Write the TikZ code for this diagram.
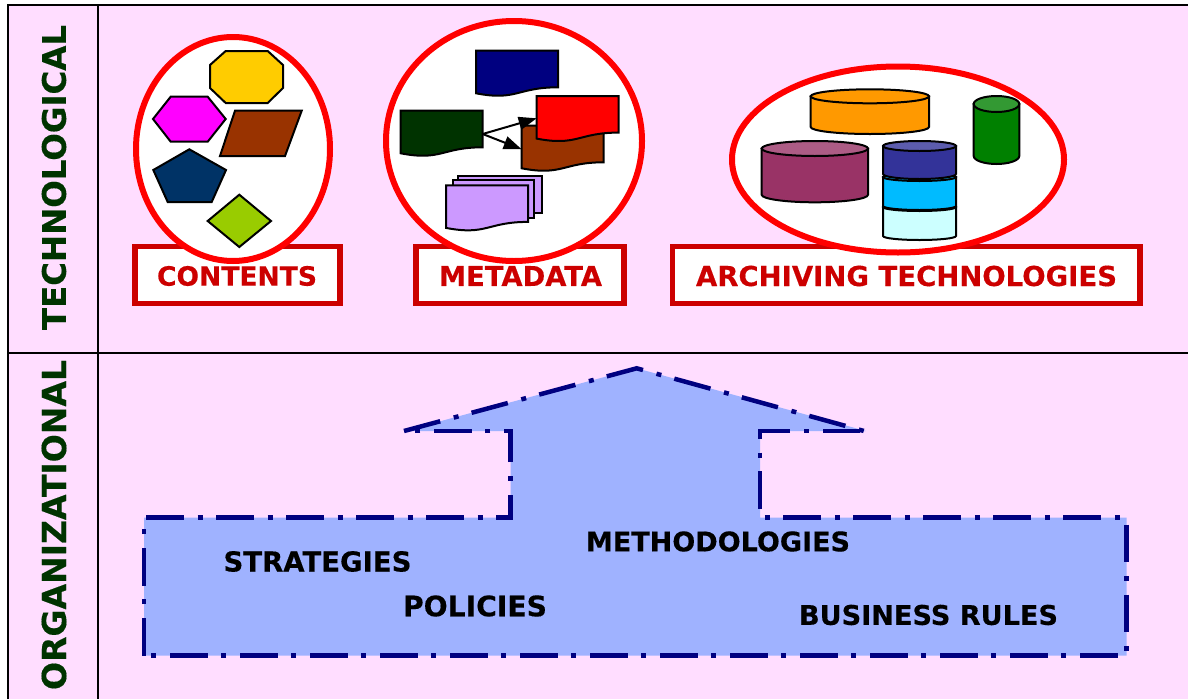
\documentclass[tikz,border=0pt]{standalone}
\usepackage{fontspec}
\usepackage{graphicx}
\setmainfont{DejaVu Sans}[BoldFeatures={FakeBold=0.35}]
\usetikzlibrary{arrows.meta}
\definecolor{pinkbg}{HTML}{FFDDFF}
\definecolor{redbox}{HTML}{CC0000}
\definecolor{navyline}{HTML}{000080}
\definecolor{bluefill}{HTML}{9FB2FF}
\definecolor{darkgreentxt}{HTML}{003300}
\definecolor{shockpink}{HTML}{FF00FF}
\tikzset{
  x=1pt,y=-1pt,
  grid line/.style={draw=black,line width=2pt},
  bubble/.style={draw=red,fill=white,line width=6pt},
  labelbox/.style={draw=redbox,fill=white,line width=5.5pt},
  labeltext/.style={text=redbox,font=\bfseries\fontsize{26}{30}\selectfont,inner sep=0pt},
  sidetext/.style={text=darkgreentxt,font=\bfseries\fontsize{32}{36}\selectfont,inner sep=0pt,rotate=90},
  bodytext/.style={text=black,font=\bfseries\fontsize{26}{32}\selectfont,inner sep=0pt},
  shapeline/.style={draw=black,line width=2pt,line join=miter},
  linkarrow/.style={draw=black,line width=2pt,-{Triangle[length=18pt,width=13pt]}},
  bigoutline/.style={draw=navyline,line width=4.5pt,line join=miter,dash pattern=on 37.5pt off 14pt on 5pt off 13.5pt}
}
\newcommand{\fitw}[2]{\resizebox{#1pt}{!}{#2}}
\newcommand{\docshape}[3]{%
  \draw[shapeline,fill=#3] (#1,#2) -- ++(82,0) -- ++(0,36.6)
    .. controls ({#1+41},{#2+36.6}) and ({#1+41},{#2+50.5}) .. ({#1},{#2+42.6}) -- cycle;}
\newcommand{\cylshape}[7]{%
  \pgfmathsetmacro{\cxx}{(#1+#2)/2}\pgfmathsetmacro{\rxx}{(#2-#1)/2}%
  \pgfmathsetmacro{\cyy}{#3+#4}\pgfmathsetmacro{\byy}{#5-#4}%
  \draw[shapeline,fill=#6] (#1,\cyy) -- (#1,\byy)
    arc[start angle=180,end angle=360,x radius=\rxx pt,y radius=#4 pt] -- (#2,\cyy) -- cycle;
  \draw[shapeline,fill=#7] (\cxx,\cyy) ellipse[x radius=\rxx pt,y radius=#4 pt];}
\begin{document}
\begin{tikzpicture}
\useasboundingbox (0,0) rectangle (1188,699);
\fill[white] (0,0) rectangle (1188,699);
% panel
\fill[pinkbg] (8,5) rectangle (1188,699);
\draw[grid line] (8,699) -- (8,5) -- (1188,5);
\draw[grid line] (98,5) -- (98,699);
\draw[grid line] (8,353) -- (1188,353);
% side labels
\node[sidetext] (tech) at (54,177.5) {\fitw{305}{TECHNOLOGICAL}};
\node[sidetext] (org) at (54,525) {\fitw{330}{ORGANIZATIONAL}};
% label boxes
\draw[labelbox] (135,246.5) rectangle (340,303.5);
\draw[labelbox] (416,246.5) rectangle (624,303.5);
\draw[labelbox] (672.5,246.5) rectangle (1140,303.5);
% bubbles
\draw[bubble] (233,149) ellipse[x radius=97pt,y radius=112pt];
\draw[bubble] (514,141) ellipse[x radius=128pt,y radius=120pt];
\draw[bubble] (898,159.5) ellipse[x radius=166pt,y radius=93pt];
\node[labeltext] (contents) at (237,276) {\fitw{160}{CONTENTS}};
\node[labeltext] (metadata) at (520.5,276) {\fitw{163}{METADATA}};
\node[labeltext] (archiving) at (906.5,276) {\fitw{421}{ARCHIVING TECHNOLOGIES}};
% contents shapes
\draw[shapeline,fill={rgb,255:red,255;green,204;blue,0}] (225.7,51) -- (267.7,51) -- (283,65) -- (283,88) -- (267.7,103) -- (225.7,103) -- (210,88) -- (210,65) -- cycle;
\draw[shapeline,fill=shockpink] (170.7,96.7) -- (207.7,96.7) -- (225.7,119) -- (207.7,141.7) -- (170.7,141.7) -- (153,119) -- cycle;
\draw[shapeline,fill={rgb,255:red,153;green,51;blue,0}] (235,110.7) -- (301.7,110.7) -- (285,156) -- (220,156) -- cycle;
\draw[shapeline,fill={rgb,255:red,0;green,51;blue,102}] (189.3,149.3) -- (226,170) -- (211.7,202) -- (167.7,202) -- (153.3,170) -- cycle;
\draw[shapeline,fill={rgb,255:red,153;green,204;blue,0}] (239.3,194.7) -- (271,221) -- (239.3,247) -- (207.7,221) -- cycle;
% metadata shapes
\docshape{476}{50.7}{navyline}
\docshape{400.7}{110.7}{darkgreentxt}
\docshape{521.7}{125.7}{{rgb,255:red,153;green,51;blue,0}}
\coordinate (srcdoc) at (482.7,134);
\coordinate (reddoc) at (536.7,118.3);
\coordinate (browndoc) at (521.7,149.3);
\draw[linkarrow] (srcdoc) -- (browndoc);
\docshape{536.7}{96}{red}
\draw[linkarrow] (srcdoc) -- (reddoc);
\definecolor{lilac}{HTML}{CC99FF}
\draw[shapeline,fill=lilac] (458.3,176) rectangle (541.7,213.3);
\draw[shapeline,fill=lilac] (452.7,180.3) rectangle (534.3,218.3);
\docshape{446}{185.3}{lilac}
% archiving cylinders
\definecolor{cylorange}{HTML}{FF9900}
\definecolor{cylplum}{HTML}{993366}
\definecolor{cylplumtop}{HTML}{AD5C85}
\definecolor{cylgreen}{HTML}{008000}
\definecolor{cylgreentop}{HTML}{339933}
\definecolor{cylblue}{HTML}{333399}
\definecolor{cylbluetop}{HTML}{5C5CAD}
\definecolor{cylsky}{HTML}{00BBFF}
\definecolor{cylpale}{HTML}{CCFFFF}
\cylshape{810.7}{929}{89.3}{7}{134}{cylorange}{cylorange}
\cylshape{761.7}{868}{141}{7.5}{202.3}{cylplum}{cylplumtop}
\cylshape{973.7}{1019.3}{96}{8}{164}{cylgreen}{cylgreentop}
\cylshape{883}{956}{203}{4}{240}{cylpale}{cylpale}
\cylshape{883}{956}{173}{4}{210}{cylsky}{cylsky}
\cylshape{883}{956}{141}{5}{179}{cylblue}{cylbluetop}
% big arrow
\fill[bluefill] (404,431) -- (636.7,368.3) -- (866,431) -- (760,431) -- (760,517.7) -- (1126.5,517.7) -- (1126.5,655.5) -- (144,655.5) -- (144,517.7) -- (510.7,517.7) -- (510.7,431) -- cycle;
\draw[bigoutline] (404,431) -- (636.7,368.3) -- (864,431);
\draw[bigoutline] (860,431) -- (760,431) -- (760,517.7) -- (1126.5,517.7) -- (1126.5,655.5) -- (144,655.5);
\draw[bigoutline] (144,655.5) -- (144,517.7) -- (510.7,517.7) -- (510.7,431) -- (404,431);
\node[bodytext] (strategies) at (317.5,561.5) {\fitw{188}{STRATEGIES}};
\node[bodytext] (policies) at (475,606) {\fitw{144}{POLICIES}};
\node[bodytext] (methods) at (718,541.5) {\fitw{264}{METHODOLOGIES}};
\node[bodytext] (rules) at (928.5,615) {\fitw{259}{BUSINESS RULES}};
\end{tikzpicture}
\end{document}
